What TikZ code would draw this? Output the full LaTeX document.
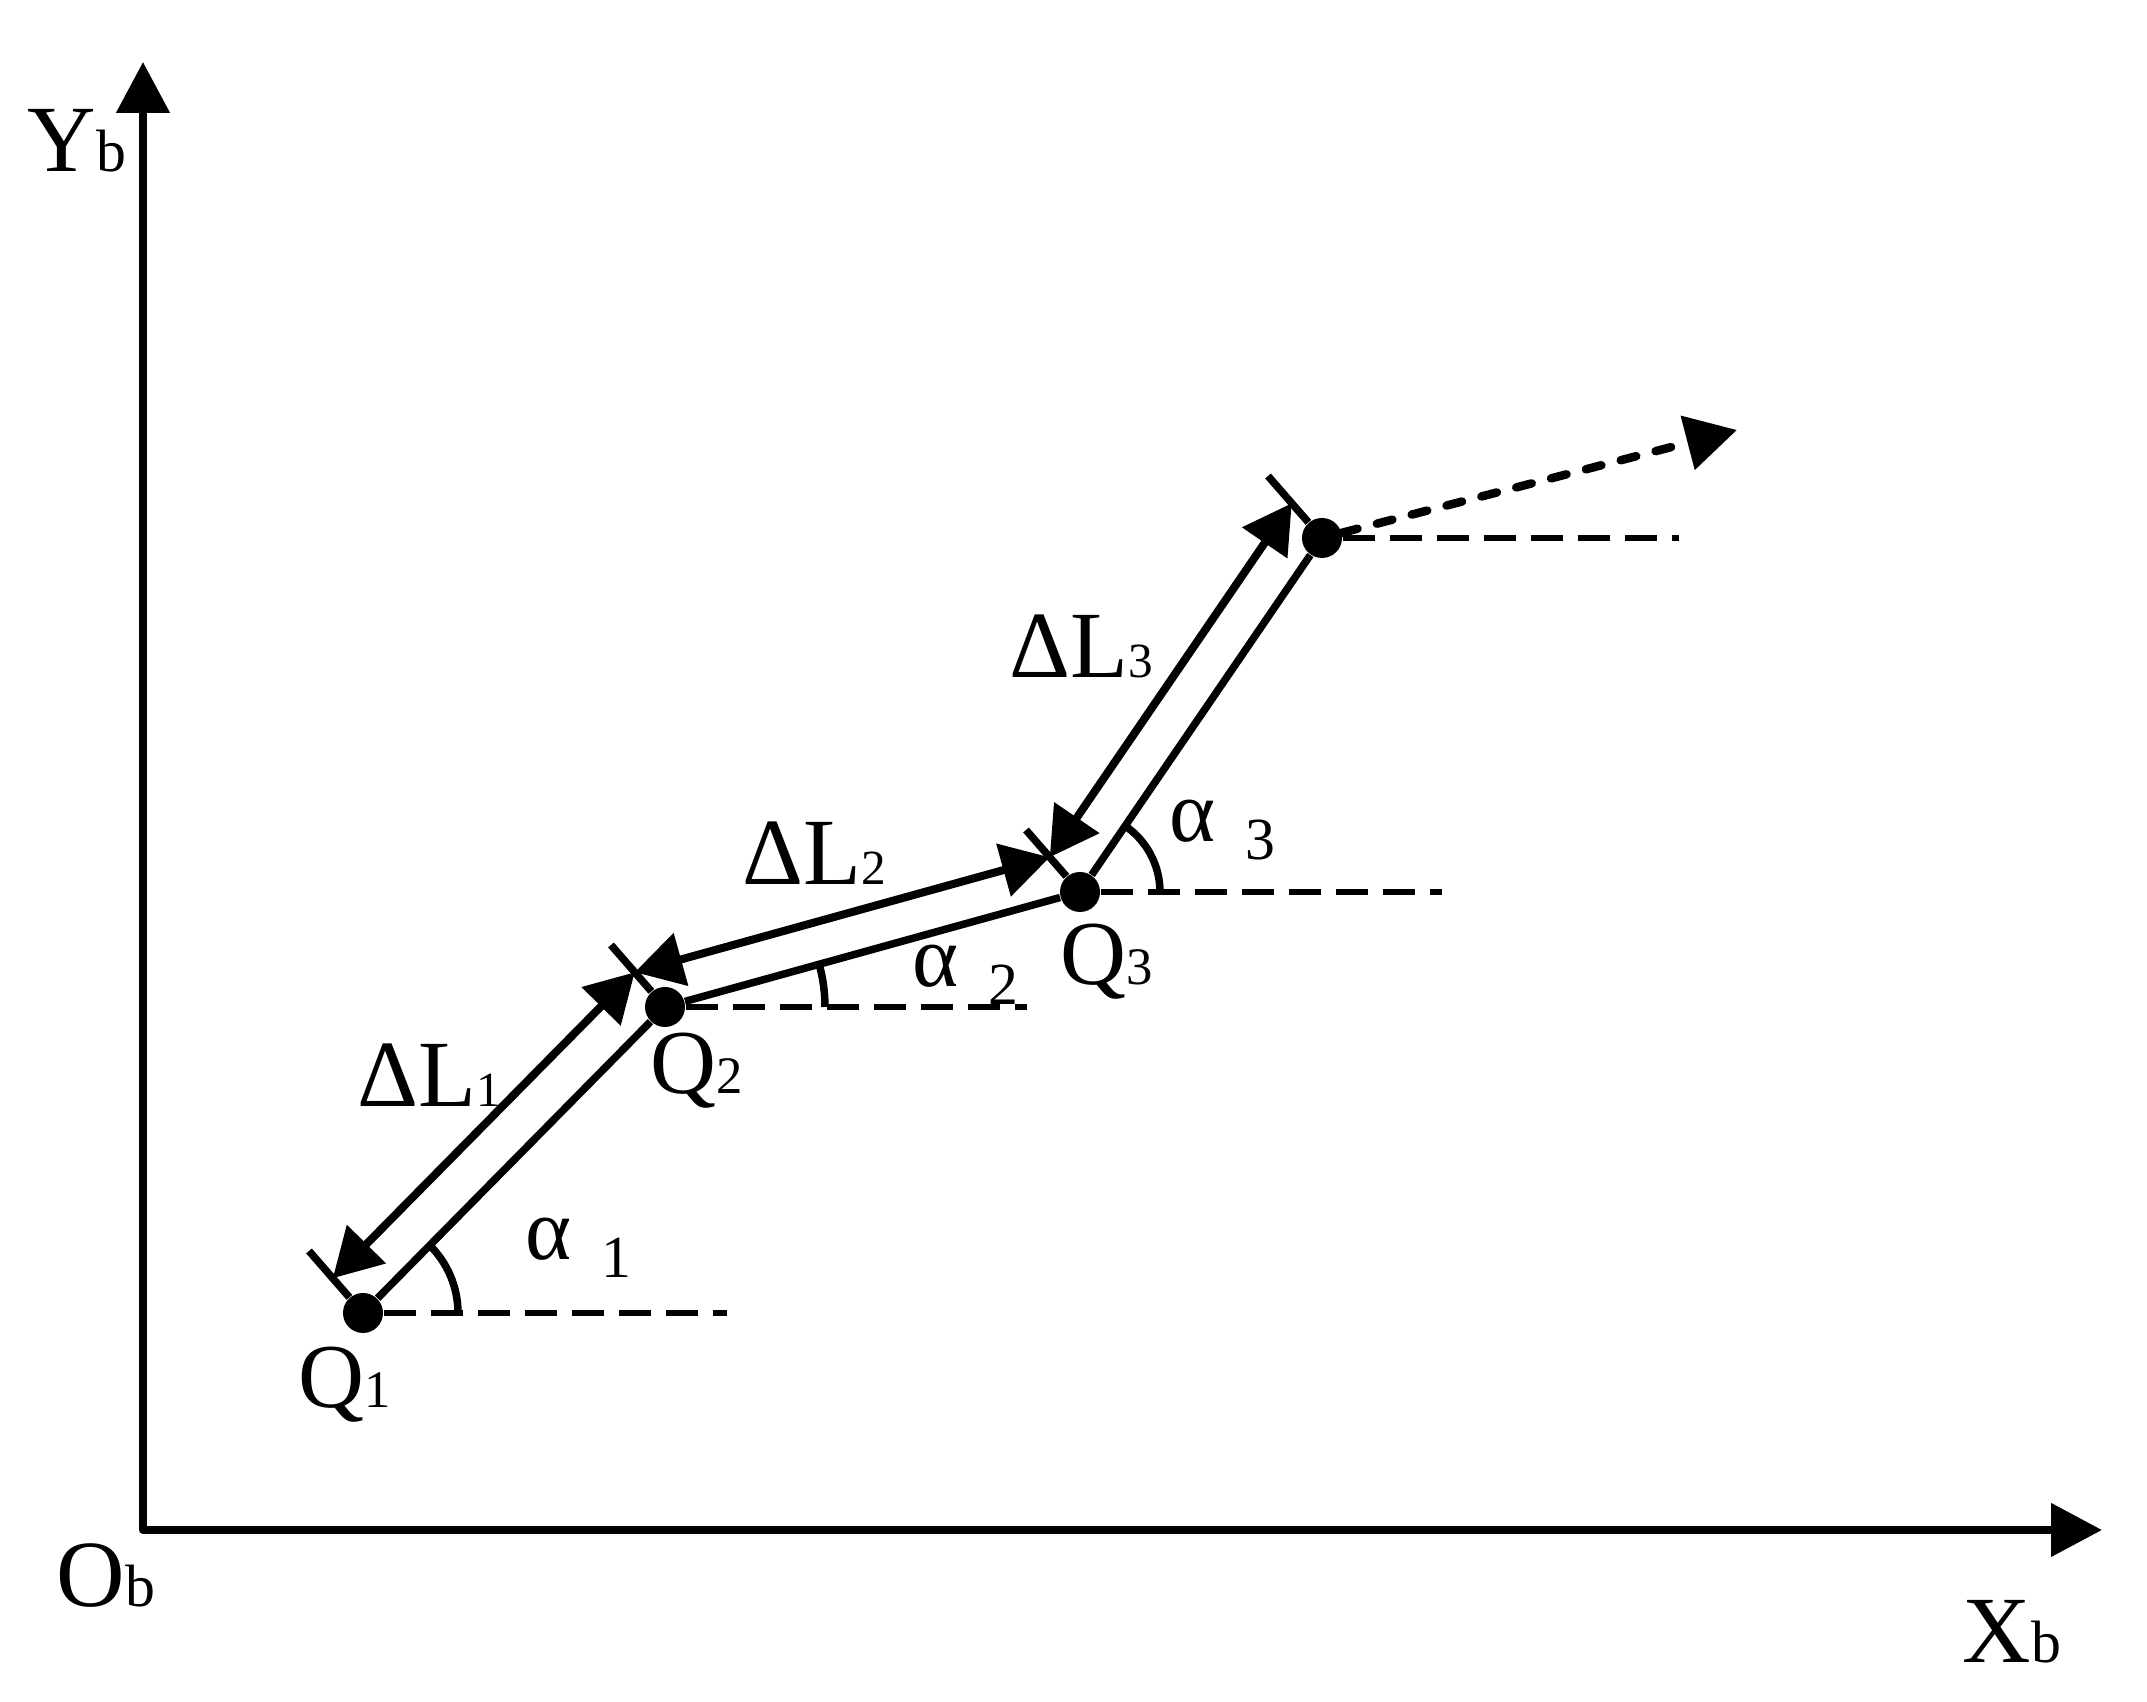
\documentclass[tikz,border=0pt]{standalone}
\usepackage{fontspec}
\setmainfont{Liberation Serif}
\usetikzlibrary{arrows.meta,calc}

\newcommand{\axislbl}[2]{{\fontsize{27}{27}\selectfont #1}{\fontsize{17}{17}\selectfont #2}}
\newcommand{\ptlbl}[1]{{\fontsize{26}{26}\selectfont Q}{\fontsize{15}{15}\selectfont #1}}
\newcommand{\steplbl}[1]{{\fontsize{27}{27}\selectfont ΔL}{\fontsize{14}{14}\selectfont #1}}
\newcommand{\anglelbl}[1]{{\fontsize{25}{25}\selectfont α}\hspace{3mm}\raisebox{-1.8mm}{\fontsize{17}{17}\selectfont #1}}

\begin{document}
\begin{tikzpicture}[x=0.1mm,y=0.1mm,>={Triangle[length=4.8mm,width=5.3mm]},
  pt/.style={circle,fill,inner sep=0pt,minimum size=4mm},
  seg/.style={line width=0.75mm},
  stepline/.style={line width=0.8mm,<->},
  refline/.style={line width=0.55mm,dash pattern=on 3.2mm off 1.5mm},
  lbl/.style={inner sep=0pt,anchor=base west}]

  \useasboundingbox (0,0) rectangle (2147,1702);

  % Axes
  \coordinate (o) at (143,172);
  \coordinate (xend) at (2102,172);
  \coordinate (yend) at (143,1640);
  \draw[line width=0.8mm,line join=round,{Triangle[length=5.1mm,width=5.2mm]}-{Triangle[length=5.1mm,width=5.2mm]}]
    (xend) -- (o) -- (yend);
  \node[lbl] (ylbl) at (27,1530) {\axislbl{Y}{b}};
  \node[lbl] (olbl) at (56,95) {\axislbl{O}{b}};
  \node[lbl] (xlbl) at (1962,39) {\axislbl{X}{b}};

  % Track points
  \node[pt] (q1) at (363,389) {};
  \node[pt] (q2) at (665,695) {};
  \node[pt] (q3) at (1080,810) {};
  \node[pt] (q4) at (1322,1164) {};

  \node[lbl] (q1lbl) at (298,294) {\ptlbl{1}};
  \node[lbl] (q2lbl) at (650,608) {\ptlbl{2}};
  \node[lbl] (q3lbl) at (1060,717) {\ptlbl{3}};

  % Horizontal reference lines
  \coordinate (h1) at (727,389);
  \coordinate (h2) at (1027,695);
  \coordinate (h3) at (1442,810);
  \coordinate (h4) at (1679,1164);

  % Ticks and ends of the step arrows
  \foreach \i in {1,...,4} {
    \coordinate (k\i) at ($(q\i)+(-54,62)$);
    \coordinate (e\i) at ($(q\i)!.56!(k\i)$);
    \draw[seg] (q\i) -- (k\i);
    \draw[refline] (q\i) -- (h\i);
  }

  \draw[seg] (q1) -- (q2) -- (q3) -- (q4);

  \draw[stepline] (e1) -- (e2);
  \draw[stepline] (e2) -- (e3);
  \draw[stepline] (e3) -- (e4);

  \node[lbl] (dl1) at (357,595) {\steplbl{1}};
  \node[lbl] (dl2) at (742,817) {\steplbl{2}};
  \node[lbl] (dl3) at (1009,1024) {\steplbl{3}};

  % Angles
  \draw[seg] ($(q1)+(95,0)$) arc[start angle=0,end angle=45.4,radius=95];
  \draw[seg] ($(q2)+(160,0)$) arc[start angle=0,end angle=15.5,radius=160];
  \draw[seg] ($(q3)+(80,0)$) arc[start angle=0,end angle=55.6,radius=80];

  \node[lbl] (a1) at (525,442) {\anglelbl{1}};
  \node[lbl] (a2) at (912,715) {\anglelbl{2}};
  \node[lbl] (a3) at (1169,860) {\anglelbl{3}};

  % Heading
  \coordinate (dir) at (1737,1272);
  \draw[line width=0.85mm,dash pattern=on 1.6mm off 2mm,line cap=round,
    -{Triangle[length=5.1mm,width=5.4mm]}] (q4) -- (dir);

\end{tikzpicture}
\end{document}
